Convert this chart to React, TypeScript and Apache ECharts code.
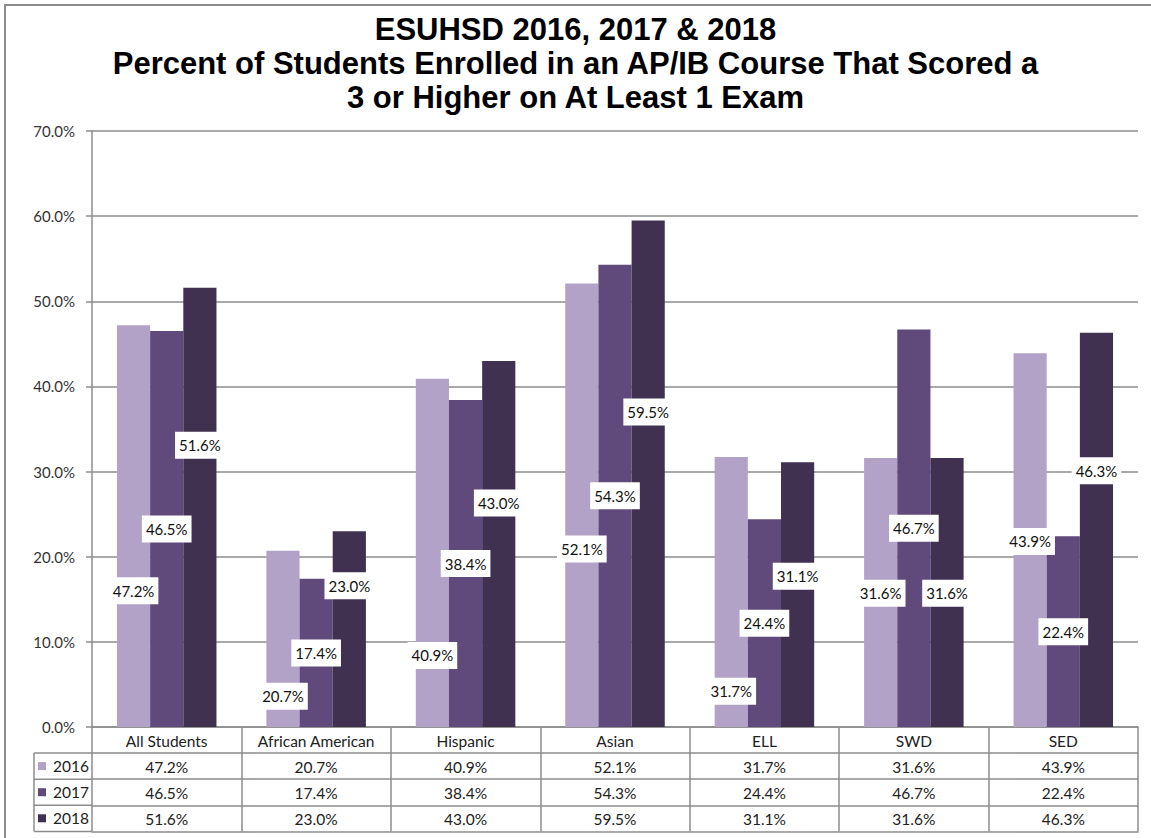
import React, { useEffect, useRef } from "react";
import * as echarts from "echarts";

const categories = ["All Students", "African American", "Hispanic", "Asian", "ELL", "SWD", "SED"];
const years = ["2016", "2017", "2018"];
const values2016 = [47.2, 20.7, 40.9, 52.1, 31.7, 31.6, 43.9];
const values2017 = [46.5, 17.4, 38.4, 54.3, 24.4, 46.7, 22.4];
const values2018 = [51.6, 23.0, 43.0, 59.5, 31.1, 31.6, 46.3];
// heights (in % units) at which the reference places the 2016 / 2018 value labels
const labelAt2016 = [16.0, 3.6, 8.4, 20.9, 4.2, 15.7, 21.8];
const labelAt2018 = [33.1, 16.6, 26.3, 37.0, 17.7, 15.7, 30.1];
const yMin = 0;
const yMax = 70;
const yInterval = 10;

const colors = ["#B3A2C7", "#604A7B", "#403151"];
const W = 1151;
const H = 838;
const GRID_LEFT = 92;
const GRID_RIGHT = 13;
const GRID_TOP = 131;
const GRID_BOTTOM = 111;
const ROW_H = 26.1;
const CAT_W = (W - GRID_LEFT - GRID_RIGHT) / categories.length;
const BAR_FRAC = 0.222;
const BAR_W = CAT_W * BAR_FRAC;
const LINE = "#8c8c8c";
const FONT = "Lato";

const fmt = (v: number) => v.toFixed(1) + "%";

export default function App() {
  const ref = useRef<HTMLDivElement>(null);
  useEffect(() => {
    if (!ref.current) return;
    const chart = echarts.init(ref.current, null, { renderer: "svg" });
    const series = [values2016, values2017, values2018];
    const labelBox = {
      show: true,
      backgroundColor: "#ffffff",
      padding: [5, 4],
      color: "#111",
      fontSize: 15,
      lineHeight: 17,
      fontFamily: FONT,
      opacity: 1,
    };
    const tableAxis = (idx: number, data: string[], withTicks: boolean, withLabels: boolean) => ({
      type: "category",
      gridIndex: 0,
      position: "bottom",
      offset: idx * ROW_H,
      data,
      boundaryGap: true,
      axisLine: { show: true, lineStyle: { color: LINE, width: 1.5 } },
      axisTick: {
        show: withTicks,
        length: ROW_H,
        interval: 0,
        alignWithLabel: false,
        lineStyle: { color: LINE, width: 1.5 },
      },
      axisLabel: {
        show: withLabels,
        interval: 0,
        margin: 5,
        fontSize: 15.5,
        lineHeight: 17,
        color: "#222",
        fontFamily: FONT,
      },
      splitLine: { show: false },
    });

    const rowLines: any[] = [];
    const tableTop = H - GRID_BOTTOM;
    for (let r = 1; r <= 4; r++) {
      const y = tableTop + r * ROW_H;
      rowLines.push({
        type: "line",
        shape: { x1: 34, y1: y, x2: GRID_LEFT, y2: y },
        style: { stroke: LINE, lineWidth: 1.5 },
      });
    }
    rowLines.push({
      type: "line",
      shape: { x1: 34, y1: tableTop + ROW_H, x2: 34, y2: tableTop + 4 * ROW_H },
      style: { stroke: LINE, lineWidth: 1.5 },
    });

    const labelScatter = (name: string, anchors: number[], vals: number[], dx: number) => ({
      name,
      type: "scatter",
      xAxisIndex: 0,
      data: anchors.map((v, i) => [i, v]),
      symbolSize: 1,
      itemStyle: { color: "rgba(0,0,0,0)", opacity: 1 },
      label: {
        ...labelBox,
        position: "inside",
        offset: [dx, 0],
        formatter: (p: any) => fmt(vals[p.dataIndex]),
      },
      emphasis: { disabled: true },
      z: 5,
    });

    chart.setOption({
      animation: false,
      backgroundColor: "#ffffff",
      title: {
        text:
          "ESUHSD 2016, 2017 & 2018\nPercent of Students Enrolled in an AP/IB Course That Scored a\n3 or Higher on At Least 1 Exam",
        left: "center",
        top: 7,
        textStyle: {
          fontFamily: "Liberation Sans",
          fontWeight: "bold",
          fontSize: 31,
          lineHeight: 34,
          color: "#000",
        },
      },
      legend: {
        data: years,
        orient: "vertical",
        left: 38,
        top: tableTop + ROW_H + 4.5,
        padding: 0,
        itemWidth: 8,
        itemHeight: 8,
        itemGap: ROW_H - 17,
        icon: "rect",
        textStyle: { fontSize: 15.5, lineHeight: 17, color: "#222", fontFamily: FONT, padding: [0, 0, 0, 2] },
      },
      grid: { left: GRID_LEFT, right: GRID_RIGHT, top: GRID_TOP, bottom: GRID_BOTTOM, containLabel: false },
      xAxis: [
        tableAxis(0, categories, true, true),
        tableAxis(1, values2016.map(fmt), true, true),
        tableAxis(2, values2017.map(fmt), true, true),
        tableAxis(3, values2018.map(fmt), true, true),
        tableAxis(4, categories, false, false),
      ],
      yAxis: {
        type: "value",
        min: yMin,
        max: yMax,
        interval: yInterval,
        axisLine: { show: true, lineStyle: { color: LINE, width: 1.5 } },
        axisTick: { show: true, length: 6, lineStyle: { color: LINE, width: 1.5 } },
        axisLabel: {
          formatter: (v: number) => fmt(v),
          fontSize: 15,
          color: "#333",
          fontFamily: FONT,
          margin: 17,
        },
        splitLine: { show: true, lineStyle: { color: LINE, width: 1.5 } },
      },
      series: [
        ...years.map((y, i) => ({
          name: y,
          type: "bar",
          xAxisIndex: 0,
          data: series[i],
          barWidth: (BAR_FRAC * 100).toFixed(1) + "%",
          barGap: "0%",
          itemStyle: { color: colors[i] },
          label: i === 1 ? { ...labelBox, position: "inside", formatter: (p: any) => fmt(p.value) } : { show: false },
          z: 2,
        })),
        labelScatter("lbl2016", labelAt2016, values2016, -BAR_W),
        labelScatter("lbl2018", labelAt2018, values2018, BAR_W),
      ],
      graphic: [
        {
          type: "rect",
          shape: { x: 5, y: 5, width: 1200, height: 900 },
          style: { fill: "none", stroke: LINE, lineWidth: 2 },
          silent: true,
        },
        ...rowLines,
      ],
    });
    return () => chart.dispose();
  }, []);
  return <div ref={ref} style={{ position: "fixed", left: 0, top: 0, width: W, height: H }} />;
}
